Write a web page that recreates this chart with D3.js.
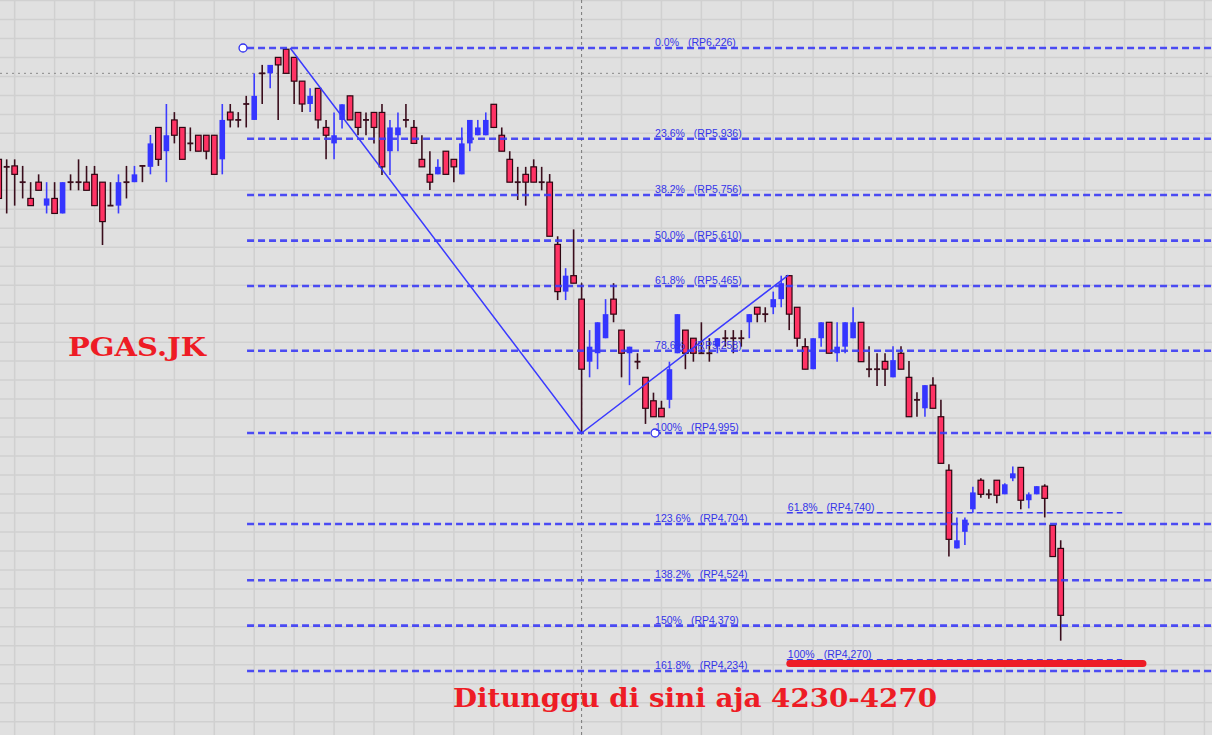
<!DOCTYPE html>
<html>
<head>
<meta charset="utf-8">
<script src="https://cdn.jsdelivr.net/npm/d3@7"></script>
<style>
  body { margin: 0; background: #e0e0e0; }
  svg { display: block; }
</style>
</head>
<body>
<svg id="chart"></svg>
<script>
// daily candles of PGAS.JK (index 0 is the half hidden one on the left)
var opens = [
  5870, 5846, 5849, 5797, 5745, 5797, 5722, 5745, 5697, 5797,
  5797, 5797, 5822, 5797, 5722, 5722, 5797, 5797, 5849, 5846,
  5972, 5896, 5996, 5972, 5921, 5947, 5947, 5947, 5870, 6021,
  5996, 6047, 5996, 6145, 6145, 6196, 6222, 6196, 6120, 6047,
  6097, 5972, 5921, 5996, 6073, 6020, 5996, 6020, 6020, 5896,
  5947, 5996, 5972, 5870, 5822, 5822, 5896, 5870, 5822, 5921,
  5947, 5947, 6046, 5947, 5870, 5797, 5822, 5846, 5797, 5797,
  5598, 5447, 5498, 5423, 5223, 5250, 5298, 5423, 5324, 5250,
  5223, 5173, 5098, 5074, 5101, 5250, 5324, 5298, 5250, 5250,
  5271, 5298, 5298, 5298, 5349, 5397, 5375, 5397, 5423, 5498,
  5397, 5271, 5199, 5298, 5349, 5250, 5271, 5298, 5349, 5199,
  5199, 5224, 5173, 5250, 5173, 5101, 5074, 5148, 5047, 4876,
  4626, 4679, 4751, 4844, 4799, 4844, 4799, 4850, 4885, 4780,
  4799, 4825, 4700, 4626
];
var highs = [
  5884, 5870, 5870, 5849, 5797, 5822, 5797, 5797, 5797, 5822,
  5870, 5849, 5849, 5797, 5797, 5822, 5849, 5849, 5849, 5948,
  5972, 6047, 6021, 5972, 5972, 5947, 5947, 5947, 6047, 6047,
  6021, 6073, 6145, 6172, 6172, 6196, 6226, 6196, 6120, 6097,
  6097, 5996, 6020, 6046, 6073, 6020, 6020, 6020, 6047, 5996,
  6020, 6047, 5996, 5947, 5896, 5870, 5896, 5870, 5972, 5996,
  5996, 6020, 6046, 5972, 5896, 5846, 5846, 5870, 5846, 5823,
  5624, 5522, 5646, 5474, 5324, 5349, 5423, 5474, 5324, 5271,
  5250, 5173, 5124, 5098, 5223, 5375, 5324, 5298, 5349, 5298,
  5298, 5324, 5324, 5324, 5375, 5397, 5397, 5447, 5498, 5500,
  5397, 5298, 5298, 5349, 5349, 5349, 5349, 5397, 5349, 5272,
  5250, 5250, 5272, 5272, 5225, 5125, 5148, 5173, 5101, 4895,
  4725, 4725, 4823, 4850, 4815, 4844, 4834, 4888, 4885, 4805,
  4825, 4831, 4700, 4652
];
var lows = [
  5724, 5697, 5722, 5745, 5722, 5771, 5697, 5697, 5697, 5771,
  5771, 5771, 5722, 5596, 5722, 5697, 5745, 5797, 5797, 5822,
  5849, 5797, 5921, 5870, 5896, 5896, 5870, 5822, 5822, 5972,
  5972, 5972, 5996, 6047, 6097, 5996, 6145, 6047, 6021, 6021,
  5969, 5870, 5870, 5969, 5996, 5947, 5947, 5921, 5820, 5820,
  5896, 5972, 5921, 5846, 5772, 5822, 5822, 5797, 5822, 5896,
  5947, 5947, 5972, 5896, 5797, 5740, 5722, 5797, 5771, 5624,
  5420, 5420, 5474, 4995, 5173, 5199, 5298, 5349, 5173, 5148,
  5199, 5024, 5047, 5047, 5074, 5250, 5199, 5223, 5250, 5223,
  5250, 5271, 5250, 5271, 5298, 5349, 5349, 5375, 5397, 5324,
  5271, 5199, 5199, 5271, 5250, 5223, 5250, 5298, 5223, 5173,
  5145, 5145, 5173, 5199, 5047, 5047, 5047, 5074, 4898, 4600,
  4626, 4637, 4740, 4788, 4785, 4770, 4799, 4841, 4751, 4754,
  4799, 4725, 4600, 4331
];
var closes = [
  5745, 5846, 5822, 5797, 5722, 5771, 5745, 5697, 5797, 5797,
  5797, 5771, 5722, 5671, 5722, 5797, 5797, 5822, 5849, 5921,
  5870, 5947, 5947, 5870, 5921, 5896, 5896, 5822, 5996, 5996,
  5996, 6047, 6073, 6145, 6172, 6172, 6145, 6120, 6047, 6073,
  5996, 5947, 5947, 6046, 5996, 5972, 5996, 5972, 5846, 5972,
  5972, 5996, 5921, 5846, 5797, 5846, 5822, 5846, 5921, 5996,
  5972, 5996, 5972, 5896, 5797, 5797, 5797, 5797, 5797, 5624,
  5447, 5498, 5474, 5199, 5271, 5349, 5375, 5375, 5250, 5271,
  5223, 5074, 5047, 5047, 5199, 5375, 5250, 5250, 5250, 5250,
  5298, 5298, 5298, 5298, 5375, 5375, 5375, 5423, 5474, 5375,
  5298, 5199, 5298, 5349, 5250, 5271, 5349, 5349, 5223, 5199,
  5199, 5199, 5228, 5199, 5047, 5101, 5148, 5074, 4898, 4655,
  4652, 4718, 4805, 4799, 4799, 4796, 4831, 4866, 4780, 4799,
  4825, 4786, 4600, 4412
];

// fibonacci retracement drawn from the top (6,226) to the low (4,995)
var fibPct = ["0.0%", "23.6%", "38.2%", "50.0%", "61.8%", "78.6%", "100%", "123.6%", "138.2%", "150%", "161.8%"];
var fibPrice = [6226, 5936, 5756, 5610, 5465, 5258, 4995, 4704, 4524, 4379, 4234];
var fibAnchors = [{i: 30.6, p: 6226}, {i: 82.2, p: 4995}];

// second, shorter projection from the rebound
var fib2Pct = ["61.8%", "100%"];
var fib2Price = [4740, 4270];
var fib2From = 98.7, fib2To = 140.7;

// the zigzag swing line: top, low, rebound
var swing = [{i: 36.5, p: 6226}, {i: 73, p: 4995}, {i: 98.9, p: 5500}];

// target zone marked in red
var zone = {from: 98.7, to: 143.3, p: 4258};

// crosshair position
var cross = {i: 73, p: 6145};

// vertical grid lines sit on these candles (week starts)
var gridIdx = [2, 7, 12, 17, 22, 27, 32, 37, 42, 47, 52, 57, 62, 67, 72, 78, 83, 88, 93, 97,
  102, 107, 112, 117, 122, 126, 131, 136, 141, 146, 151];

var width = 1212, height = 735;
var fmt = d3.format(",");

var svg = d3.select("#chart")
  .attr("width", width)
  .attr("height", height);

var x = d3.scaleLinear().domain([0, 133]).range([-1.3, 1060.7]);
var y = d3.scaleLinear().domain([4995, 6226]).range([433, 48]);

svg.append("rect")
  .attr("width", width)
  .attr("height", height)
  .attr("fill", "#e0e0e0");

// the grid
var grid = svg.append("g").attr("stroke", "#d0d0d0").attr("stroke-width", 1.5);
grid.selectAll("line.v")
  .data(gridIdx)
  .enter()
  .append("line")
    .attr("x1", function(d) { return x(d); })
    .attr("x2", function(d) { return x(d); })
    .attr("y1", 0)
    .attr("y2", height);
grid.selectAll("line.h")
  .data(d3.range(0.5, height, 18.98))
  .enter()
  .append("line")
    .attr("x1", 0)
    .attr("x2", width)
    .attr("y1", function(d) { return d; })
    .attr("y2", function(d) { return d; });

// crosshair
svg.append("line")
  .attr("x1", x(cross.i)).attr("x2", x(cross.i))
  .attr("y1", 0).attr("y2", height)
  .attr("stroke", "#7a7a7a")
  .attr("stroke-dasharray", "3,3");
svg.append("line")
  .attr("x1", 0).attr("x2", width)
  .attr("y1", y(cross.p)).attr("y2", y(cross.p))
  .attr("stroke", "#8a8a8a")
  .attr("stroke-dasharray", "2,4");

// candles
var candles = d3.range(opens.length).map(function(i) {
  return {i: i, o: opens[i], h: highs[i], l: lows[i], c: closes[i]};
});

var g = svg.append("g");
var c = g.selectAll("g.candle")
  .data(candles)
  .enter()
  .append("g");

c.append("line")
  .attr("x1", function(d) { return x(d.i); })
  .attr("x2", function(d) { return x(d.i); })
  .attr("y1", function(d) { return y(d.h); })
  .attr("y2", function(d) { return y(d.l); })
  .attr("stroke", function(d) { return d.c > d.o ? "#3c3cff" : "#3a0d1c"; })
  .attr("stroke-width", 1.6);

// doji get a flat tick, the others a body
c.filter(function(d) { return d.c === d.o; })
  .append("line")
    .attr("x1", function(d) { return x(d.i) - 3; })
    .attr("x2", function(d) { return x(d.i) + 3; })
    .attr("y1", function(d) { return y(d.o); })
    .attr("y2", function(d) { return y(d.o); })
    .attr("stroke", "#3a0d1c")
    .attr("stroke-width", 1.8);

c.filter(function(d) { return d.c !== d.o; })
  .append("rect")
    .attr("x", function(d) { return x(d.i) - 2.8; })
    .attr("width", 5.6)
    .attr("y", function(d) { return y(Math.max(d.o, d.c)); })
    .attr("height", function(d) { return Math.max(1, y(Math.min(d.o, d.c)) - y(Math.max(d.o, d.c))); })
    .attr("fill", function(d) { return d.c > d.o ? "#3535ff" : "#ff3364"; })
    .attr("stroke", function(d) { return d.c > d.o ? "none" : "#2e0612"; })
    .attr("stroke-width", 1.2);

// fibonacci levels
var fibStart = x(fibAnchors[0].i);
var fib = svg.append("g");
fib.selectAll("line")
  .data(fibPrice)
  .enter()
  .append("line")
    .attr("x1", fibStart + 4)
    .attr("x2", width)
    .attr("y1", function(d) { return y(d); })
    .attr("y2", function(d) { return y(d); })
    .attr("stroke", "#3b3bf5")
    .attr("stroke-opacity", 0.9)
    .attr("stroke-width", 2.6)
    .attr("stroke-dasharray", "7,4");

var fib2 = svg.append("g");
fib2.selectAll("line")
  .data(fib2Price)
  .enter()
  .append("line")
    .attr("x1", x(fib2From))
    .attr("x2", x(fib2To))
    .attr("y1", function(d) { return y(d); })
    .attr("y2", function(d) { return y(d); })
    .attr("stroke", "#3b3bf5")
    .attr("stroke-width", 1.4)
    .attr("stroke-dasharray", "6,4");

// red target band
svg.append("line")
  .attr("x1", x(zone.from) + 3)
  .attr("x2", x(zone.to))
  .attr("y1", y(zone.p))
  .attr("y2", y(zone.p))
  .attr("stroke", "#ee1c25")
  .attr("stroke-width", 7)
  .attr("stroke-linecap", "round");

// swing line
svg.append("path")
  .datum(swing)
  .attr("d", d3.line().x(function(d) { return x(d.i); }).y(function(d) { return y(d.p); }))
  .attr("fill", "none")
  .attr("stroke", "#3a3aff")
  .attr("stroke-width", 1.5);

// anchor circles
svg.selectAll("circle.anchor")
  .data(fibAnchors)
  .enter()
  .append("circle")
    .attr("cx", function(d) { return x(d.i); })
    .attr("cy", function(d) { return y(d.p); })
    .attr("r", 4)
    .attr("fill", "#ffffff")
    .attr("stroke", "#3030f0")
    .attr("stroke-width", 1.3);

// level labels: percent, then the price in brackets
function addLabels(pcts, prices, lx) {
  var lab = svg.append("g")
    .style("font-family", "'Liberation Sans', Arial, sans-serif")
    .style("font-size", "10.5px")
    .attr("fill", "#3434e8");
  var t = lab.selectAll("text")
    .data(prices)
    .enter()
    .append("text")
      .attr("x", lx)
      .attr("y", function(d) { return y(d) - 2; });
  t.append("tspan").text(function(d, i) { return pcts[i]; });
  t.append("tspan").attr("dx", 9).text(function(d) { return "(RP" + fmt(d) + ")"; });
}
addLabels(fibPct, fibPrice, x(fibAnchors[1].i));
addLabels(fib2Pct, fib2Price, x(fib2From) + 1);

// captions
svg.append("text")
  .attr("x", 68)
  .attr("y", 356)
  .attr("textLength", 138)
  .attr("lengthAdjust", "spacingAndGlyphs")
  .style("font-family", "'DejaVu Serif', serif")
  .style("font-weight", "bold")
  .style("font-size", "26px")
  .attr("fill", "#ee1c25")
  .text("PGAS.JK");

svg.append("text")
  .attr("x", 453)
  .attr("y", 707)
  .attr("textLength", 484)
  .attr("lengthAdjust", "spacingAndGlyphs")
  .style("font-family", "'DejaVu Serif', serif")
  .style("font-weight", "bold")
  .style("font-size", "26px")
  .attr("fill", "#ee1c25")
  .text("Ditunggu di sini aja 4230-4270");
</script>
</body>
</html>
